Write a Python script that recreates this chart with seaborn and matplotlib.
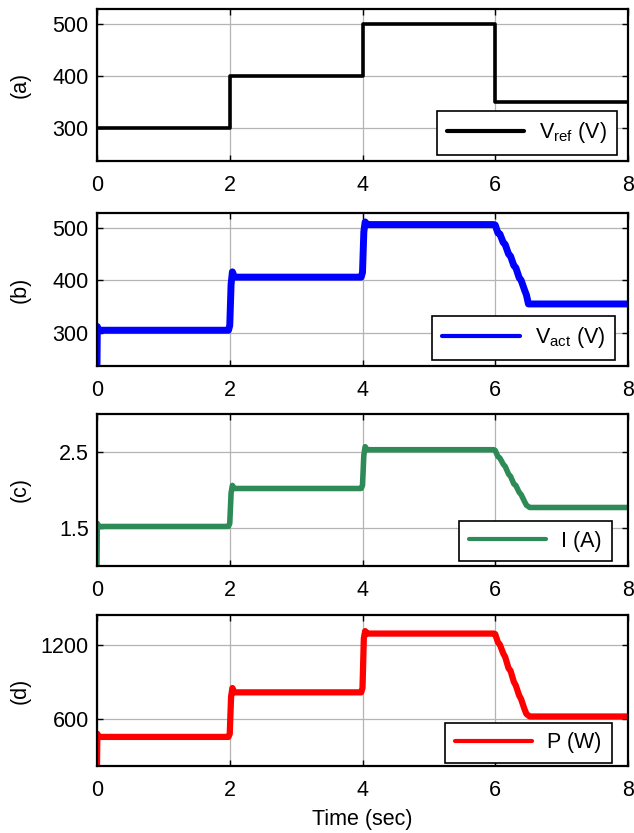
import matplotlib
matplotlib.use("Agg")
import matplotlib.pyplot as plt
import seaborn as sns
import pandas as pd

sns.set_theme(style="white")
plt.rcParams["font.family"] = ["Liberation Sans", "DejaVu Sans"]
plt.rcParams["mathtext.fontset"] = "custom"
plt.rcParams["mathtext.rm"] = "Liberation Sans"
plt.rcParams["mathtext.it"] = "Liberation Sans"
plt.rcParams["text.color"] = "black"
plt.rcParams["axes.labelcolor"] = "black"

# ---- reference voltage (V) ----
t_ref = [0, 2, 2, 4, 4, 6, 6, 8]
v_ref = [300, 300, 400, 400, 500, 500, 350, 350]

# ---- measured voltage (V) ----
t_act = [0, 0.005, 0.02, 1.98, 2.0, 2.02, 2.04, 2.07, 3.98, 4.0, 4.02, 4.04, 4.07,
         5.98, 6.0, 6.04, 6.07, 6.12, 6.15, 6.2, 6.23, 6.28, 6.31, 6.36, 6.39, 6.44,
         6.47, 6.5, 8.0]
v_act = [240, 312, 305, 305, 314, 392, 416, 406, 406, 415, 492, 511, 506,
         506, 505, 490, 488, 472, 468, 450, 446, 428, 424, 405, 400, 382,
         372, 355, 355]

# ---- current (A) ----
t_cur = [0, 0.005, 0.02, 1.98, 2.0, 2.02, 2.04, 2.07, 3.98, 4.0, 4.02, 4.04, 4.07,
         5.98, 6.0, 6.04, 6.07, 6.12, 6.15, 6.2, 6.23, 6.28, 6.31, 6.36, 6.39, 6.44,
         6.47, 6.52, 8.0]
i_cur = [1.0, 1.56, 1.52, 1.52, 1.56, 1.96, 2.06, 2.02, 2.02, 2.06, 2.46, 2.57, 2.53,
         2.53, 2.52, 2.44, 2.42, 2.34, 2.31, 2.21, 2.18, 2.08, 2.06, 1.97, 1.94, 1.85,
         1.80, 1.77, 1.77]

# ---- power (W) ----
t_pow = [0, 0.005, 0.02, 1.98, 2.0, 2.02, 2.04, 2.07, 3.98, 4.0, 4.02, 4.04, 4.07,
         5.98, 6.0, 6.04, 6.07, 6.12, 6.15, 6.2, 6.23, 6.28, 6.31, 6.36, 6.39, 6.44,
         6.47, 6.52, 8.0]
p_pow = [220, 480, 455, 455, 480, 780, 850, 815, 815, 850, 1250, 1310, 1290,
         1290, 1285, 1220, 1200, 1130, 1100, 1010, 990, 900, 870, 790, 760, 680,
         640, 620, 620]

panels = [
    dict(t=t_ref, y=v_ref, color="black", lw=2.6, label=r"V$_{\mathrm{ref}}$ (V)",
         ylim=(235, 530), yticks=[300, 400, 500], tag="(a)",
         box=(0.979, 0.04), top=9, bot=161),
    dict(t=t_act, y=v_act, color="#0000ff", lw=5.0, label=r"V$_{\mathrm{act}}$ (V)",
         ylim=(237, 528), yticks=[300, 400, 500], tag="(b)",
         box=(0.975, 0.04), top=213, bot=366),
    dict(t=t_cur, y=i_cur, color="#2e8b57", lw=4.0, label="I (A)",
         ylim=(1.0, 3.0), yticks=[1.5, 2.5], tag="(c)",
         box=(0.969, 0.03), top=414, bot=566),
    dict(t=t_pow, y=p_pow, color="#ff0000", lw=4.5, label="P (W)",
         ylim=(220, 1440), yticks=[600, 1200], tag="(d)",
         box=(0.969, 0.02), top=615, bot=766),
]

FS = 15.5
W, H = 634, 833
fig = plt.figure(figsize=(W / 100, H / 100), dpi=100)
left, right = 97, 628
label_x = (31 - left) / (right - left)

for p in panels:
    ax = fig.add_axes([left / W, 1 - p["bot"] / H, (right - left) / W,
                       (p["bot"] - p["top"]) / H])
    df = pd.DataFrame({"t": p["t"], "y": p["y"]})
    sns.lineplot(data=df, x="t", y="y", ax=ax, color=p["color"], linewidth=p["lw"],
                 sort=False, estimator=None, label=p["label"])
    ax.set_xlim(0, 8)
    ax.set_ylim(*p["ylim"])
    ax.set_xticks([0, 2, 4, 6, 8])
    ax.set_yticks(p["yticks"])
    ax.grid(True, color="#b4b4b4", linewidth=0.9)
    ax.set_axisbelow(True)
    for s in ax.spines.values():
        s.set_visible(True)
        s.set_color("black")
        s.set_linewidth(1.6)
    ax.tick_params(axis="both", which="both", direction="in", length=4, width=1,
                   top=True, right=True, bottom=True, left=True,
                   labelsize=FS, colors="black")
    ax.tick_params(axis="x", pad=10)
    ax.tick_params(axis="y", pad=6)
    ax.set_xlabel("")
    ax.set_ylabel(p["tag"], fontsize=FS, color="black")
    ax.yaxis.set_label_coords(label_x, 0.5)
    leg = ax.legend(loc="lower right", bbox_to_anchor=p["box"],
                    fontsize=FS, frameon=True, fancybox=False, handlelength=3.6,
                    handletextpad=0.7, borderpad=0.45, borderaxespad=0)
    frame = leg.get_frame()
    frame.set_edgecolor("black")
    frame.set_linewidth(1.2)
    frame.set_alpha(1)
    for h in leg.get_lines():
        h.set_linewidth(3)

ax.set_xlabel("Time (sec)", fontsize=FS, labelpad=6, color="black")

fig.savefig("out.png", dpi=100)
